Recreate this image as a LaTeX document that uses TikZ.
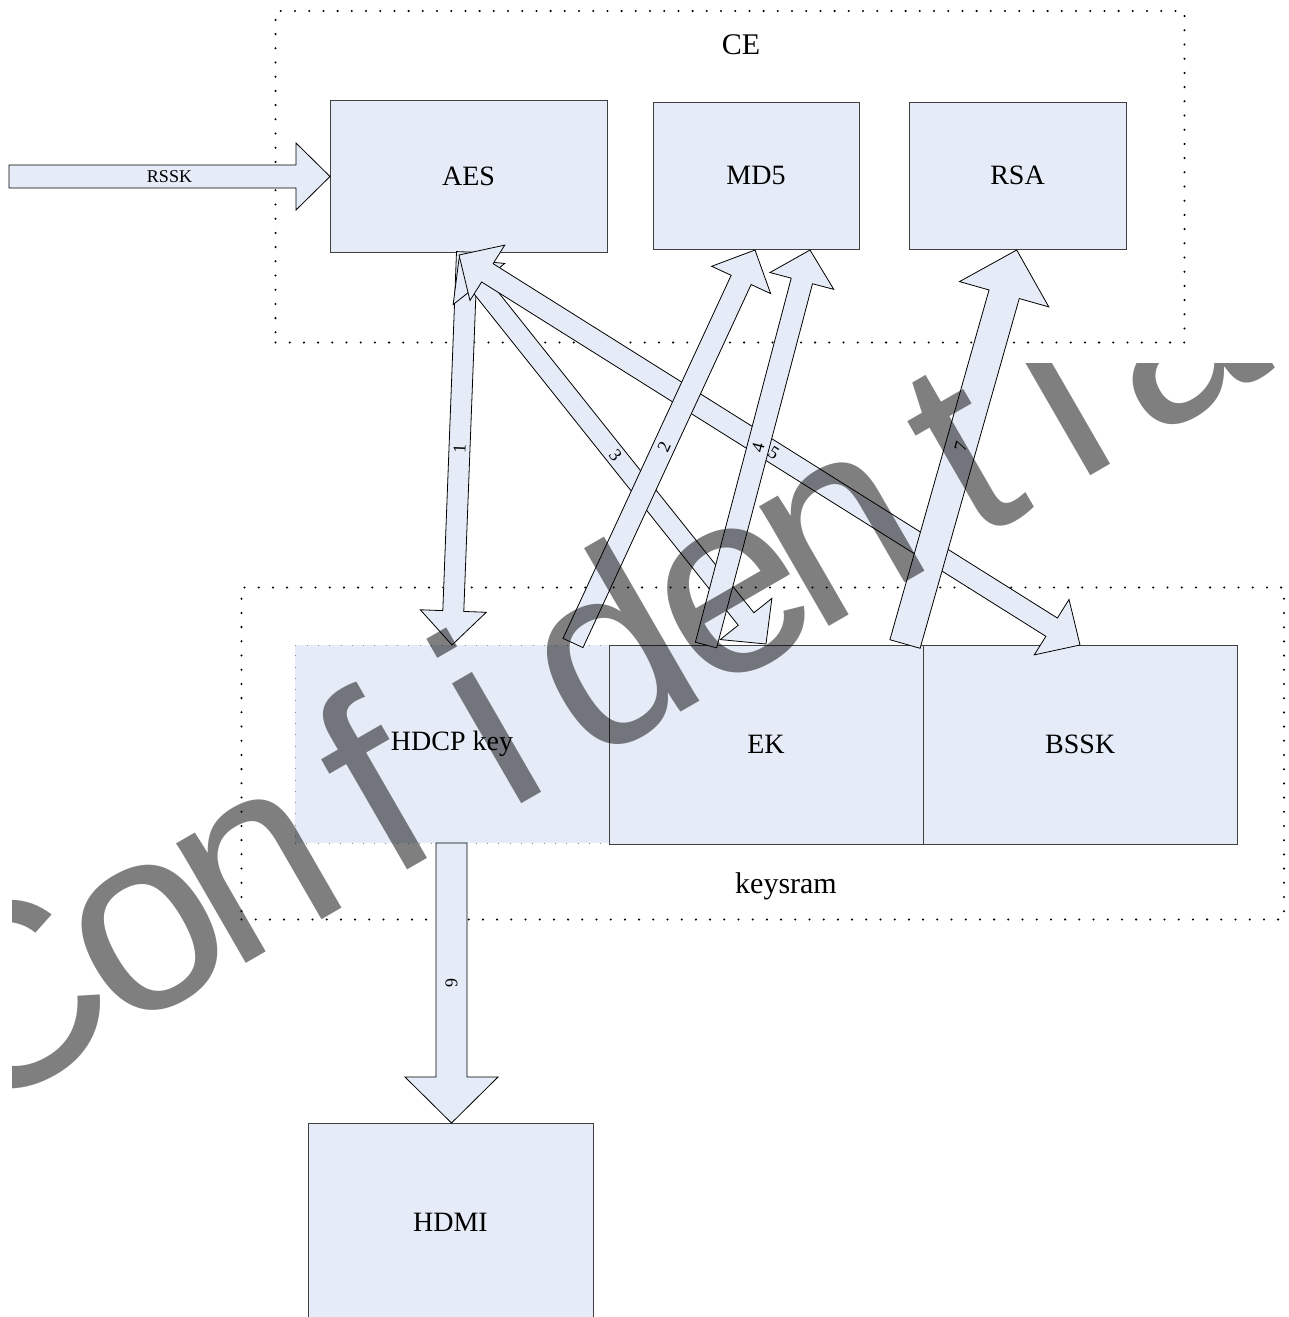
\documentclass[tikz,border=0pt]{standalone}
\usepackage{fontspec}
\setmainfont{Liberation Serif}
\newfontfamily\wmfont{Liberation Sans}
\usetikzlibrary{calc}
\definecolor{boxfill}{RGB}{230,236,247}
\tikzset{
  container/.style={draw=black, line width=2.3pt, dash pattern=on 0pt off 14.2pt, line cap=round},
  box/.style={draw=black!75, line width=1pt, fill=boxfill, inner sep=0pt, font=\fontsize{28}{30}\selectfont},
  hdcpbox/.style={fill=boxfill, draw=black!45, line width=0.6pt, dash pattern=on 0.8pt off 10.5pt, inner sep=0pt, font=\fontsize{28}{30}\selectfont},
  grouplabel/.style={inner sep=0pt, font=\fontsize{30}{32}\selectfont},
  barrow/.style={draw=black, line width=0.8pt, fill=boxfill, line join=miter},
  numlabel/.style={inner sep=0pt, font=\fontsize{18}{20}\selectfont},
  wm/.style={inner sep=0pt, anchor=base, rotate=30, text=black, text opacity=0.5, font=\wmfont\fontsize{262}{262}\selectfont}
}
% single-headed block arrow: {name}{from}{to}{shaft half width}{head half width}{head length}
\newcommand{\blockarrow}[6]{%
  \coordinate (#1q) at ($(#3)!#6!(#2)$);
  \draw[barrow] ($(#2)!#4!90:(#3)$) -- ($(#1q)!#4!90:(#3)$) -- ($(#1q)!#5!90:(#3)$) -- (#3)
     -- ($(#1q)!#5!-90:(#3)$) -- ($(#1q)!#4!-90:(#3)$) -- ($(#2)!#4!-90:(#3)$) -- cycle;
}
% double-headed block arrow
\newcommand{\dblarrow}[6]{%
  \coordinate (#1p) at ($(#2)!#6!(#3)$);
  \coordinate (#1q) at ($(#3)!#6!(#2)$);
  \draw[barrow] (#2) -- ($(#1p)!#5!90:(#3)$) -- ($(#1p)!#4!90:(#3)$) -- ($(#1q)!#4!90:(#3)$) -- ($(#1q)!#5!90:(#3)$) -- (#3)
     -- ($(#1q)!#5!-90:(#3)$) -- ($(#1q)!#4!-90:(#3)$) -- ($(#1p)!#4!-90:(#3)$) -- ($(#1p)!#5!-90:(#3)$) -- cycle;
}
\begin{document}
\begin{tikzpicture}[x=1pt, y=-1pt]
\useasboundingbox[fill=white] (0,0) rectangle (1289,1317);

% containers
\node[container, minimum width=909pt, minimum height=331.5pt, inner sep=0pt] (ce) at (730,176.75) {};
\node[grouplabel] (celbl) at (741,45) {CE};
\node[container, minimum width=1042.5pt, minimum height=332pt, inner sep=0pt] (keysram) at (762.75,753.5) {};
\node[grouplabel] (keysramlbl) at (786,886) {keysram};

% boxes
\node[box, minimum width=277pt, minimum height=152pt] (aes) at (468.5,176) {AES};
\node[box, minimum width=206pt, minimum height=147pt] (md5) at (756,175.5) {MD5};
\node[box, minimum width=217pt, minimum height=147pt] (rsa) at (1017.5,175.5) {RSA};
\node[hdcpbox, minimum width=314pt, minimum height=198pt] (hdcp) at (452,744) {HDCP key};
\node[box, minimum width=314pt, minimum height=199pt] (ek) at (766,744.5) {EK};
\node[box, minimum width=314.5pt, minimum height=199pt] (bssk) at (1080.25,744.5) {BSSK};
\node[box, minimum width=285pt, minimum height=198pt] (hdmi) at (450.5,1222) {HDMI};

% arrow end points
\coordinate (rs) at (9,176.5);
\coordinate (rsend) at (330,176.5);
\coordinate (a1s) at (467,252);   \coordinate (a1e) at (452,645);
\coordinate (a2s) at (573,643);   \coordinate (a2e) at (755,250);
\coordinate (a3s) at (459,259);   \coordinate (a3e) at (766,644);
\coordinate (a4s) at (706,645);   \coordinate (a4e) at (810,250);
\coordinate (a5s) at (459,255);   \coordinate (a5e) at (1080,645);
\coordinate (a6s) at (451.5,843); \coordinate (a6e) at (451.5,1123);
\coordinate (a7s) at (905,644);   \coordinate (a7e) at (1016.7,250);

\blockarrow{ar1}{a1s}{a1e}{10.5pt}{33pt}{34pt}
\dblarrow{ar3}{a3s}{a3e}{10pt}{33pt}{32pt}
\dblarrow{ar5}{a5s}{a5e}{10.8pt}{32.7pt}{33.5pt}
\blockarrow{ar4}{a4s}{a4e}{11pt}{33pt}{32pt}
\blockarrow{ar2}{a2s}{a2e}{11pt}{32.5pt}{33pt}
\blockarrow{ar7}{a7s}{a7e}{15.7pt}{46.4pt}{46pt}
\blockarrow{ar6}{a6s}{a6e}{15.5pt}{46.5pt}{46pt}
\blockarrow{rssk}{rs}{rsend}{11.5pt}{33.5pt}{34pt}

% arrow labels
\path (a1s) -- (a1e) node[midway, sloped, numlabel] (lbl1) {1};
\path (a2s) -- (a2e) node[midway, sloped, numlabel] (lbl2) {2};
\path (a3s) -- (a3e) node[pos=0.51, sloped, numlabel] (lbl3) {3};
\path (a4s) -- (a4e) node[midway, sloped, numlabel] (lbl4) {4};
\path (a5s) -- (a5e) node[pos=0.507, sloped, numlabel] (lbl5) {5};
\path (a6s) -- (a6e) node[midway, sloped, numlabel] (lbl6) {6};
\path (a7s) -- (a7e) node[midway, sloped, numlabel] (lbl7) {7};
\path (rs) -- (rsend) node[midway, numlabel] (lblrssk) {RSSK};

% watermark
\begin{scope}
\clip (12,363) rectangle (1289,1317);
\foreach \ch/\s [count=\k] in {C/-495, o/-339, n/-214, f/-69, i/62, d/200, e/336, n/460, t/608, i/718, a/848, l/963}
  \node[wm] (wm\k) at ({0.866*\s+478.5},{-0.5*\s+828.8}) {\ch};
\end{scope}
\end{tikzpicture}
\end{document}
